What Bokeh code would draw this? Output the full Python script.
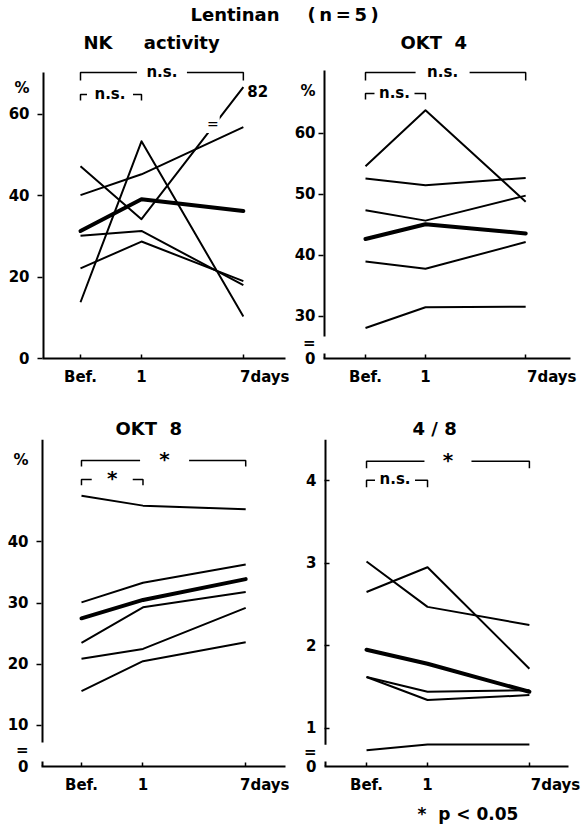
from bokeh.plotting import figure
from bokeh.layouts import row, column
from bokeh.models import Label, FixedTicker, Range1d, Title
from bokeh.embed import file_html
from bokeh.resources import INLINE

FONT = "DejaVu Sans"
NB = "\u00a0"
TH = "\u2009"

# ---------------- data ----------------
x_labels = ["Bef.", "1", "7days"]
x_pos = [0, 1, 2.67]          # category positions along the time axis

# NK activity (%)
nk_series = [
    [40.1, 45.2, 56.8],
    [47.2, 34.2, 82.0],
    [13.8, 53.3, 10.3],
    [30.1, 31.3, 18.0],
    [22.1, 28.7, 19.0],
]
nk_mean = [31.3, 39.1, 36.2]

# OKT 4 (%)
okt4_series = [
    [54.6, 63.8, 48.8],
    [52.6, 51.5, 52.7],
    [47.4, 45.7, 49.8],
    [39.0, 37.8, 42.2],
    [28.1, 31.5, 31.6],
]
okt4_mean = [42.7, 45.1, 43.6]

# OKT 8 (%)
okt8_series = [
    [47.5, 45.9, 45.3],
    [30.1, 33.3, 36.3],
    [23.5, 29.3, 31.8],
    [20.9, 22.5, 29.2],
    [15.6, 20.5, 23.6],
]
okt8_mean = [27.5, 30.5, 33.9]

# OKT4 / OKT8 ratio
ratio_series = [
    [3.02, 2.47, 2.25],
    [2.65, 2.95, 1.72],
    [1.62, 1.44, 1.46],
    [1.62, 1.34, 1.40],
    [0.73, 0.80, 0.80],
]
ratio_mean = [1.95, 1.78, 1.44]

nk_ticks = [0, 20, 40, 60]
okt4_ticks = [30, 40, 50, 60]
okt8_ticks = [10, 20, 30, 40]
ratio_ticks = [1, 2, 3, 4]

# NK axis is broken above 60 (values above are compressed)
NK_BREAK = 60
NK_COMPRESS = 0.3


def nk_display(v):
    return v if v <= NK_BREAK else NK_BREAK + (v - NK_BREAK) * NK_COMPRESS


# ---------------- helpers ----------------
def make_panel(width, height, bl, br, bt, bb, xr, yr, frame_w, frame_h, yticks,
               axis_top_px, pct_px=None, break_px=None, ticks_in=False, standoff=8):
    p = figure(width=width, height=height, x_range=Range1d(*xr), y_range=Range1d(*yr),
               output_backend="svg", toolbar_location=None, title=None,
               min_border_left=bl, min_border_right=br,
               min_border_top=bt, min_border_bottom=bb)
    p.outline_line_color = None
    p.grid.visible = False
    p.background_fill_color = "white"
    p.border_fill_color = "white"
    sy = frame_h / (yr[1] - yr[0])
    sx = frame_w / (xr[1] - xr[0])
    base = yr[0]

    xa = p.xaxis[0]
    ya = p.yaxis[0]
    xa.ticker = FixedTicker(ticks=x_pos)
    pad = "\u2007" * 5
    xa.major_label_overrides = {x_pos[0]: x_labels[0], x_pos[1]: x_labels[1],
                                x_pos[2]: pad + x_labels[2]}

    major = list(yticks)
    overrides = {}
    if break_px is not None:
        major = [base] + major
        overrides[base] = "0"
        bpos = round(base + break_px / sy, 2)
        major.append(bpos)
        overrides[bpos] = "="
    if pct_px is not None:
        ppos = round(yr[1] - pct_px / sy, 2)
        major.append(ppos)
        overrides[ppos] = "%"
    ya.ticker = FixedTicker(ticks=major, minor_ticks=list(yticks))
    ya.major_label_overrides = overrides

    for ax in (xa, ya):
        ax.major_tick_line_width = 1.5
        ax.major_tick_line_color = "black"
        ax.major_label_text_font = FONT
        ax.major_label_text_font_style = "bold"
        ax.major_label_text_font_size = "15px"
        ax.major_label_text_color = "black"
        ax.axis_label_standoff = 0
    xa.axis_line_width = 2
    xa.axis_line_color = "black"
    xa.minor_tick_line_color = None
    xa.major_tick_in = 4
    xa.major_tick_out = 0
    xa.major_label_standoff = 9

    ya.axis_line_color = None
    ya.major_tick_in = 0
    ya.major_tick_out = 0
    ya.major_label_standoff = standoff
    ya.minor_tick_line_color = "black"
    ya.minor_tick_line_width = 1.5
    if ticks_in:
        ya.minor_tick_in = 5
        ya.minor_tick_out = 0
    else:
        ya.minor_tick_in = 0
        ya.minor_tick_out = 5

    # vertical axis line (broken near zero when the scale does not start at 0)
    xs = xr[0]
    top = yr[1] - axis_top_px / sy
    if break_px is None:
        p.line([xs, xs], [base, top], line_color="black", line_width=4)
    else:
        p.line([xs, xs], [base + (break_px + 7) / sy, top], line_color="black", line_width=4)
        p.line([xs, xs], [base, base + 5 / sy], line_color="black", line_width=4)
    return p, sx, sy


def add_title(p, t, offset, standoff, size="18px", loc="above"):
    p.add_layout(Title(text=t, align="left", offset=offset, standoff=standoff,
                       text_font=FONT, text_font_size=size, text_font_style="bold",
                       text_color="black"), loc)


def text(p, x, y, t, size="16px", align="center", baseline="middle", style="bold",
         bg=None, padding=0, xo=0, yo=0):
    lab = Label(x=x, y=y, text=t, text_align=align, text_baseline=baseline,
                text_font=FONT, text_font_size=size, text_font_style=style,
                text_color="black", x_offset=xo, y_offset=yo)
    if bg:
        lab.background_fill_color = bg
        lab.padding = padding
    p.add_layout(lab)


def bracket(p, sx, sy, x0, x1, y_px_from_top, drop_px, label, half_gap_px, size,
            shift_px=0):
    y = p.y_range.end - y_px_from_top / sy
    drop = drop_px / sy
    xc = (x0 + x1) / 2 + shift_px / sx
    g = half_gap_px / sx
    kw = dict(line_color="black", line_width=1.5)
    p.line([x0, x0, xc - g], [y - drop, y, y], **kw)
    p.line([xc + g, x1, x1], [y, y, y - drop], **kw)
    text(p, xc, y, label, size=size, yo=1)


def draw_lines(p, series, mean, f=lambda v: v):
    for s in series:
        p.line(x_pos, [f(v) for v in s], line_color="black", line_width=2,
               line_join="round")
    p.line(x_pos, [f(v) for v in mean], line_color="black", line_width=4,
           line_join="round", line_cap="round")


# ---------------- panel 1 : NK activity ----------------
p1, sx1, sy1 = make_panel(289, 400, 42, 4, 58, 42, (-0.623, 3.361), (0, 73.62), 243, 300,
                          nk_ticks, axis_top_px=14, pct_px=30)
draw_lines(p1, nk_series, nk_mean, nk_display)
b = nk_series[1]
t = 0.72
bx = x_pos[1] + t * (x_pos[2] - x_pos[1])
by = nk_display(b[1]) + t * (nk_display(b[2]) - nk_display(b[1]))
text(p1, bx, by, "=", size="14px", style="normal", bg="white", padding=1, xo=-2)
text(p1, x_pos[2], nk_display(b[2]), "%g" % b[2], size="15px", align="left", xo=4, yo=-4)
bracket(p1, sx1, sy1, x_pos[0], x_pos[2], 14, 8, "n.s.", 25, "15px")
bracket(p1, sx1, sy1, x_pos[0], x_pos[1], 36, 6, "n.s.", 23, "15px", shift_px=-1)
add_title(p1, "NK" + NB * 5 + "activity", 41, 11)
add_title(p1, "Lentinan", 148, 0)

# ---------------- panel 2 : OKT 4 ----------------
p2, sx2, sy2 = make_panel(297, 400, 34, 16, 58, 42, (-0.7, 3.417), (23.1, 72.28), 247, 300,
                          okt4_ticks, axis_top_px=12, pct_px=32, break_px=15, standoff=3)
draw_lines(p2, okt4_series, okt4_mean)
bracket(p2, sx2, sy2, x_pos[0], x_pos[2], 14, 8, "n.s.", 27, "15px", shift_px=-3)
bracket(p2, sx2, sy2, x_pos[0], x_pos[1], 35, 6, "n.s.", 20, "15px", shift_px=-1)
add_title(p2, "OKT" + NB * 2 + "4", 77, 11)
add_title(p2, "(" + TH + "n" + TH + "=" + TH + "5" + TH + ")", -16, 0)

# ---------------- panel 3 : OKT 8 ----------------
p3, sx3, sy3 = make_panel(289, 428, 41, 4, 39, 61, (-0.65, 3.317), (3.3, 56.7), 244, 328,
                          okt8_ticks, axis_top_px=0, pct_px=21, break_px=17)
draw_lines(p3, okt8_series, okt8_mean)
bracket(p3, sx3, sy3, x_pos[0], x_pos[2], 21, 6, "*", 24.5, "20px", shift_px=1)
bracket(p3, sx3, sy3, x_pos[0], x_pos[1], 40, 6, "*", 20.5, "20px")
add_title(p3, "OKT" + NB * 2 + "8", 74, 1)

# ---------------- panel 4 : 4/8 ----------------
p4, sx4, sy4 = make_panel(297, 428, 35, 18, 38, 61, (-0.689, 3.311), (0.534, 4.5), 244, 329,
                          ratio_ticks, axis_top_px=0, break_px=15, ticks_in=True)
draw_lines(p4, ratio_series, ratio_mean)
bracket(p4, sx4, sy4, x_pos[0], x_pos[2], 22, 7, "*", 23.5, "20px")
bracket(p4, sx4, sy4, x_pos[0], x_pos[1], 41, 7, "n.s.", 20, "15px", shift_px=-2)
add_title(p4, "4" + NB + "/" + NB + "8", 88, 1)
add_title(p4, "*" + NB * 2 + "p" + NB + "<" + NB + "0.05", 93, 10, size="17px",
          loc="below")

layout = column(row(p1, p2), row(p3, p4))
open("out.html", "w").write(file_html(layout, INLINE))
